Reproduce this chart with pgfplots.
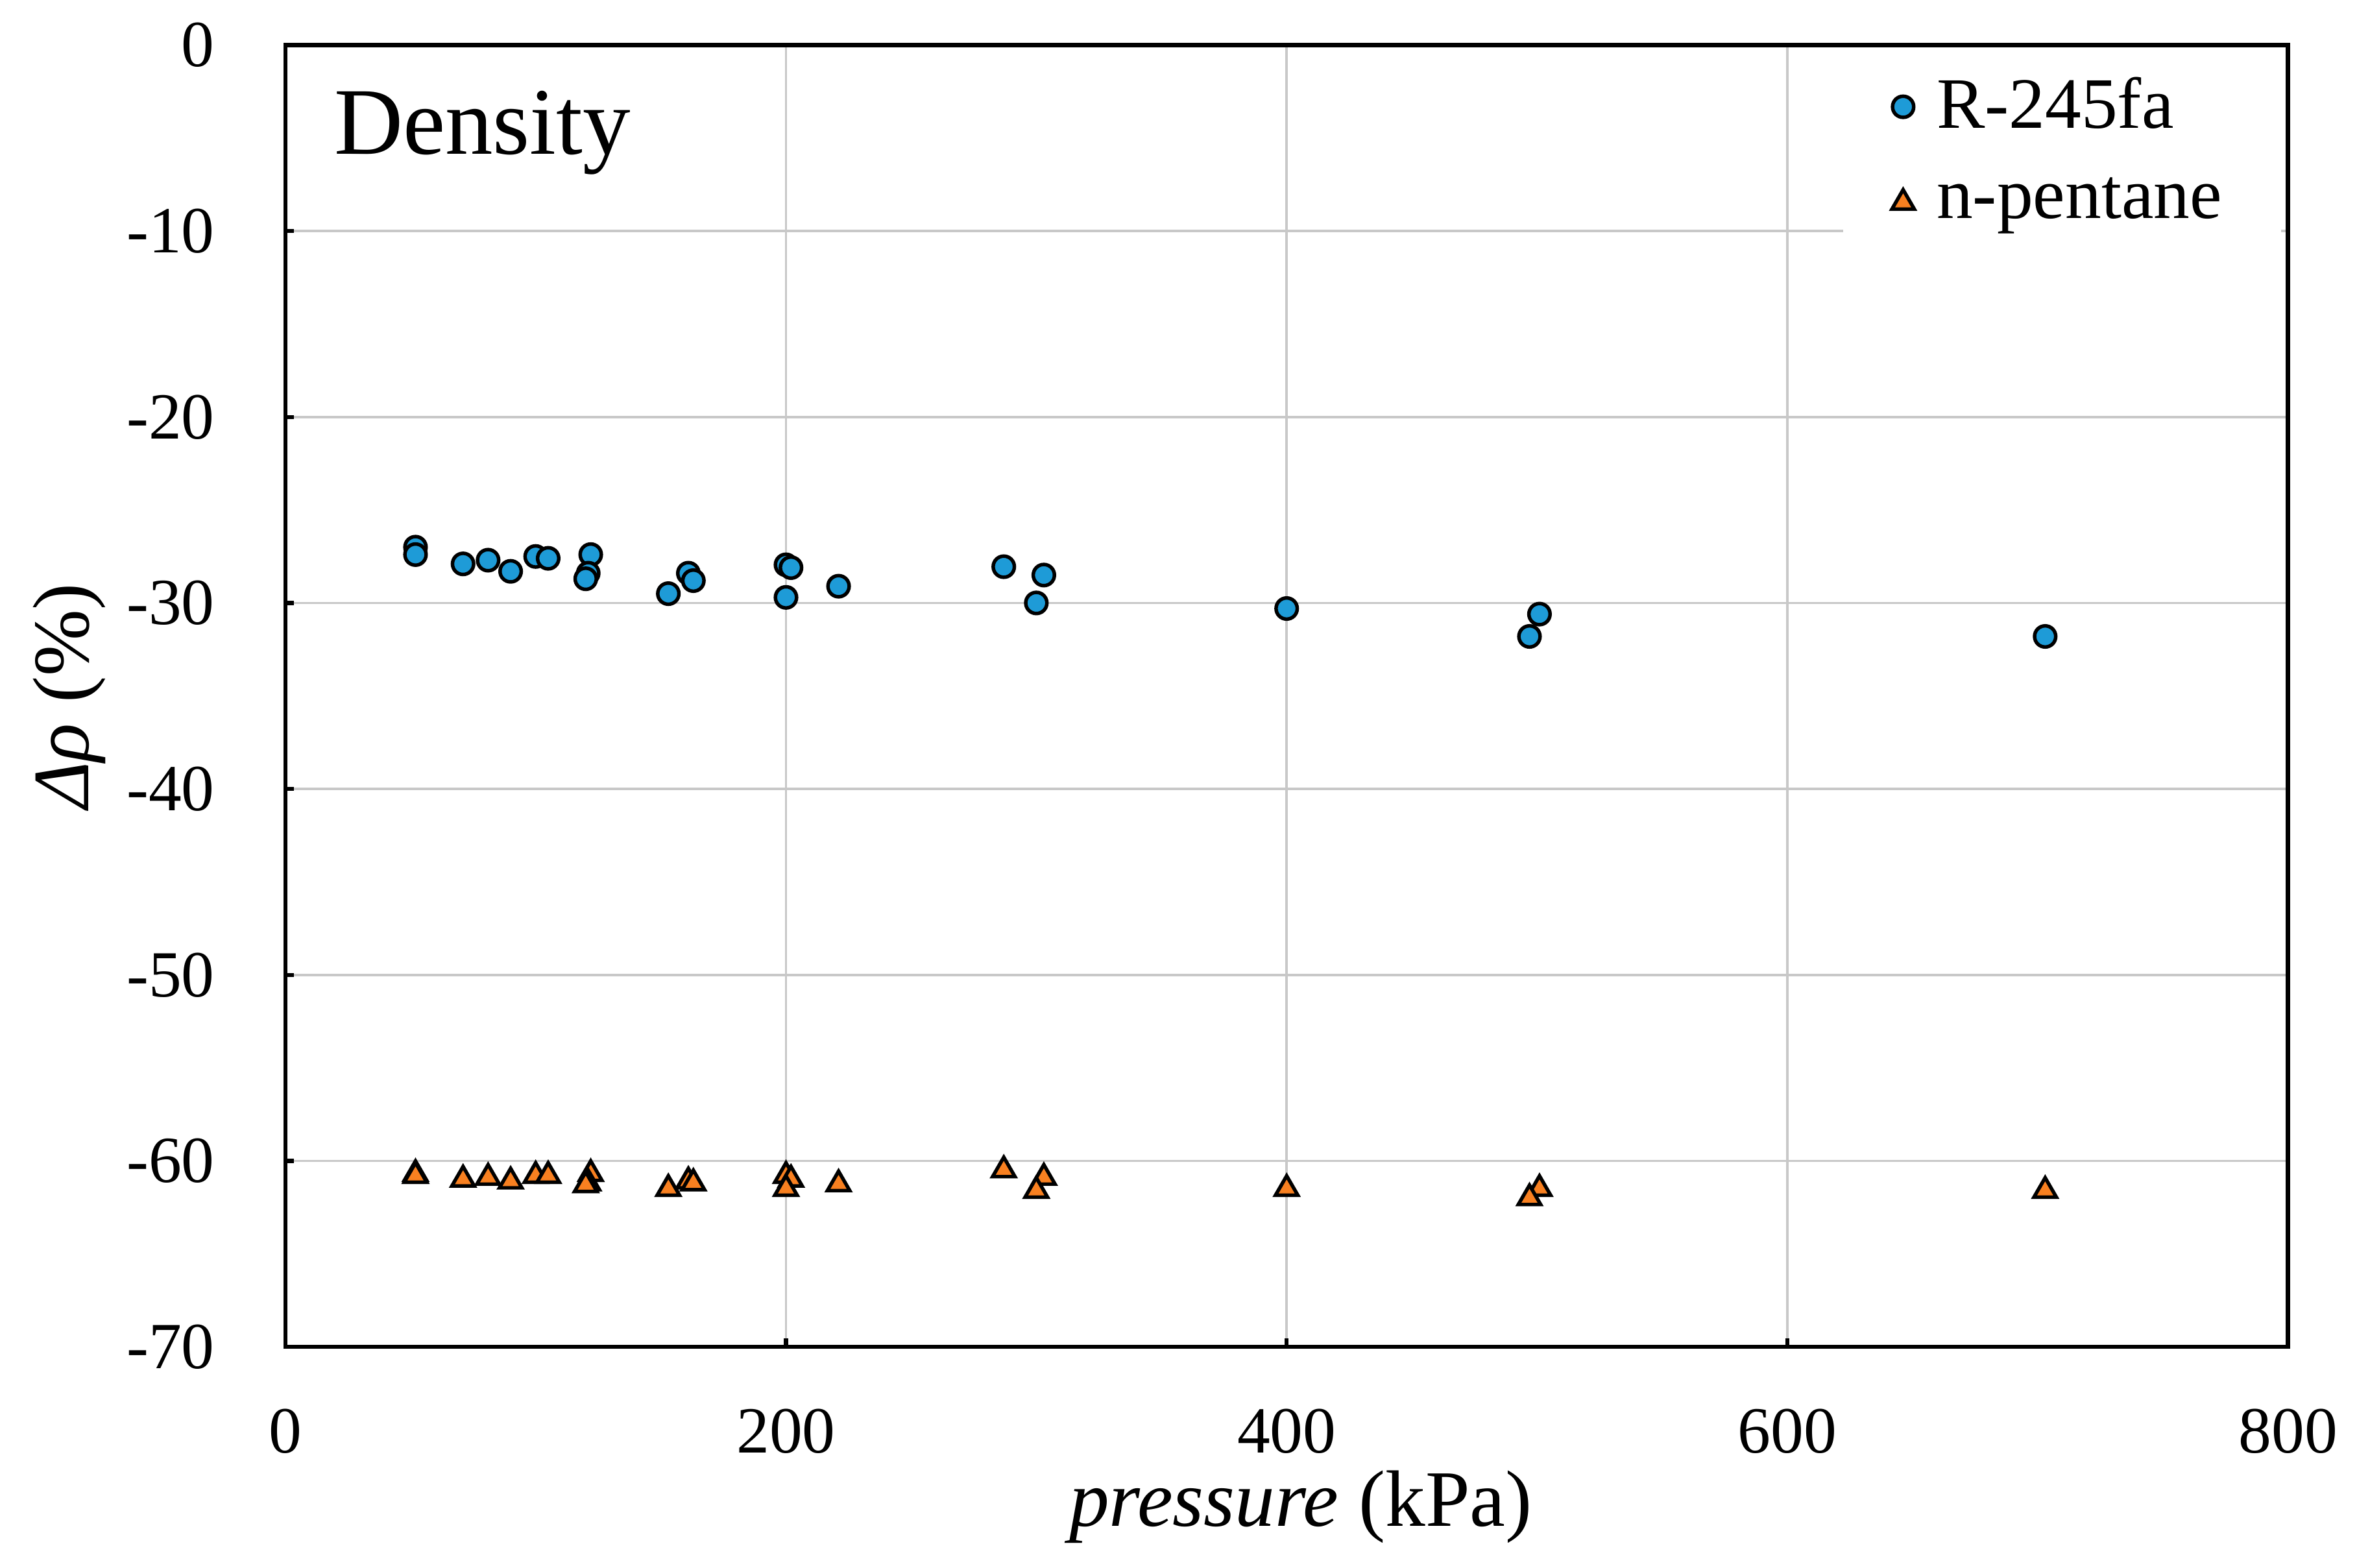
\documentclass[border=0pt]{standalone}
\usepackage{pgfplots}
\pgfplotsset{compat=1.18}
\usepackage{fontspec}
\setmainfont{Liberation Serif}

\definecolor{rblue}{RGB}{30,155,215}
\definecolor{porange}{RGB}{248,128,32}
\definecolor{gridgray}{RGB}{200,200,200}

\begin{document}
\begin{tikzpicture}
\begin{axis}[
    scale only axis,
    width=340.4pt, height=221.3pt,
    xmin=0, xmax=800,
    ymin=-70, ymax=0,
    xtick={0,200,...,800},
    ytick={-70,-60,...,0},
    grid=major,
    major grid style={line width=0.4pt, draw=gridgray},
    axis line style={line width=0.7pt},
    tick align=inside,
    major tick length=1.5pt,
    tick style={black, line width=0.7pt},
    xtick pos=bottom, ytick pos=left,
    /pgf/number format/assume math mode=true,
    ticklabel style={font=\fontsize{11.2}{13}\selectfont},
    xticklabel style={yshift=-7pt},
    yticklabel style={xshift=-8.5pt},
    xlabel={\textit{pressure} (kPa)},
    ylabel={{\itshape Δρ} (\%)},
    label style={font=\fontsize{13.6}{16}\selectfont},
    xlabel style={at={(axis description cs:0.507,-0.123)}, anchor=center},
    ylabel style={at={(axis description cs:-0.108,0.5)}, anchor=center},
    legend style={at={(0.997,0.999)}, anchor=north east, draw=none, fill=white,
        font=\fontsize{12.3}{14}\selectfont, row sep=3pt,
        inner xsep=8pt, inner ysep=3pt},
    legend image code/.code={%
        \path (-2pt,0pt) (3.5pt,0pt);
        \draw[#1] plot coordinates {(0pt,0pt)};},
    legend cell align=left,
]
\addplot[only marks, mark=*, mark size=1.8pt,
    mark options={fill=rblue, draw=black, line width=0.6pt}] coordinates {
    (52,-27.0) (52,-27.4) (71,-27.9) (81,-27.7) (90,-28.3)
    (100,-27.5) (105,-27.6) (122,-27.4) (121,-28.4) (120,-28.7)
    (153,-29.5) (161,-28.4) (163,-28.8) (200,-27.95) (202,-28.1)
    (200,-29.7) (221,-29.1) (287,-28.05) (303,-28.5) (300,-30.0)
    (400,-30.3) (501,-30.6) (497,-31.8) (703,-31.8)
};
\addlegendentry{R-245fa}
\addplot[only marks, mark=triangle*, mark size=2.2pt,
    mark options={fill=porange, draw=black, line width=0.6pt}] coordinates {
    (52,-60.7) (52,-60.8) (71,-61.0) (81,-60.9) (90,-61.1)
    (100,-60.8) (105,-60.8) (122,-60.7) (121,-61.2) (120,-61.3)
    (153,-61.5) (161,-61.1) (163,-61.2) (200,-60.8) (202,-61.0)
    (200,-61.5) (221,-61.25) (287,-60.5) (303,-60.9) (300,-61.6)
    (400,-61.5) (501,-61.5) (497,-62.0) (703,-61.6)
};
\addlegendentry{n-pentane}
\node[anchor=base west, font=\fontsize{16.2}{19}\selectfont]
    at (rel axis cs:0.014,0.916) {Density};
\end{axis}
\path ([xshift=-48.5pt,yshift=-37.5pt]current axis.south west)
    rectangle ([xshift=11pt,yshift=7.65pt]current axis.north east);
\end{tikzpicture}
\end{document}
